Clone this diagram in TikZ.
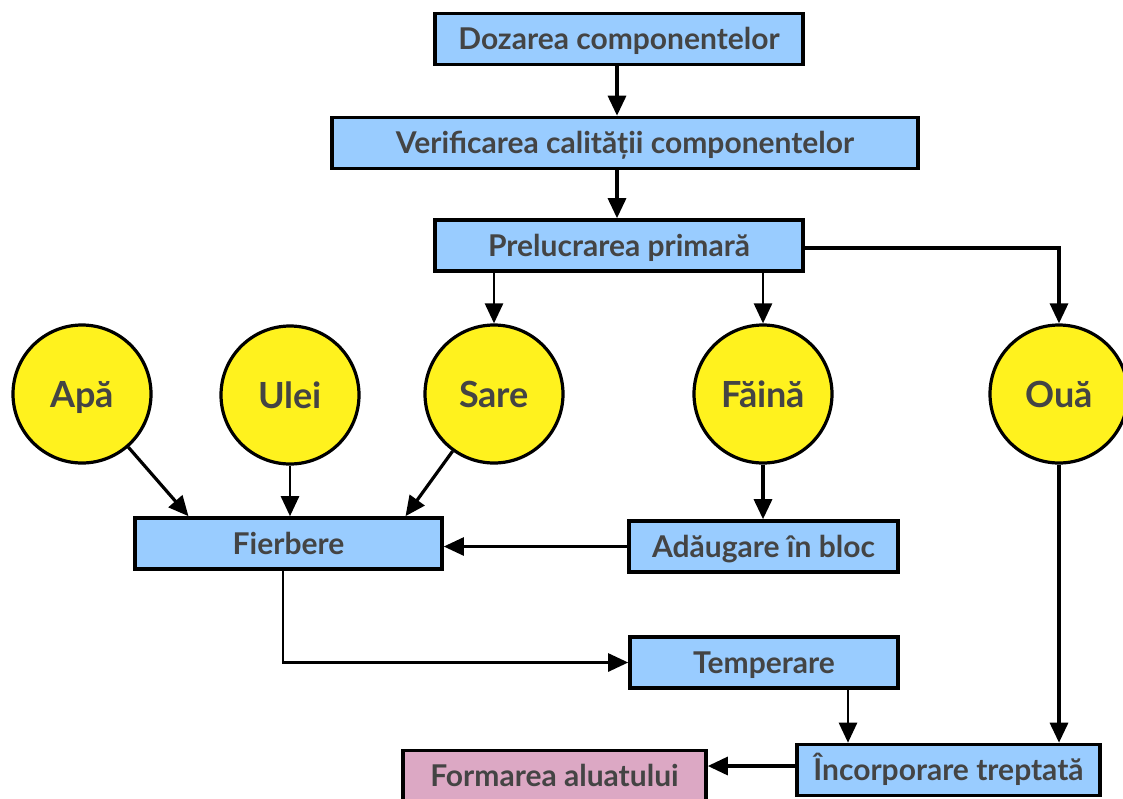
\documentclass[tikz,border=0pt]{standalone}
\usepackage{fontspec}
\setmainfont{Lato}
\usetikzlibrary{arrows.meta,calc}
\definecolor{boxblue}{RGB}{153,204,255}
\definecolor{dotyellow}{RGB}{255,242,30}
\definecolor{endpink}{RGB}{220,168,196}
\definecolor{inkgray}{RGB}{68,68,68}
\begin{document}
\begin{tikzpicture}[x=1pt,y=-1pt,
  stepbox/.style={draw=black,line width=3.6pt,fill=boxblue,rectangle,
    minimum height=51pt,inner sep=0pt,text=inkgray,
    text height=21.5pt,text depth=0pt,
    font=\fontsize{30}{34}\selectfont\bfseries},
  endbox/.style={stepbox,fill=endpink},
  ingr/.style={draw=black,line width=3.2pt,fill=dotyellow,circle,
    minimum size=138pt,inner sep=0pt,text=inkgray,
    text height=26pt,text depth=0pt,
    font=\fontsize{36}{40}\selectfont\bfseries},
  flow/.style={line width=3.2pt,-{Triangle[length=20pt,width=18pt]}},
  thinflow/.style={flow,line width=2.6pt}]
\useasboundingbox (0,0) rectangle (1123,798);
\fill[white] (0,0) rectangle (1123,798);

% process steps
\node[stepbox,minimum width=368pt] (doz) at (619,39) {Dozarea componentelor};
\node[stepbox,minimum width=586pt] (ver) at (625,143) {Verificarea calității componentelor};
\node[stepbox,minimum width=368pt] (pre) at (619,245.5) {Prelucrarea primară};
\node[stepbox,minimum width=307pt] (fier) at (288.5,543.5) {Fierbere};
\node[stepbox,minimum width=269pt] (add) at (763.5,546.5) {Adăugare în bloc};
\node[stepbox,minimum width=268pt] (temp) at (764,662.5) {Temperare};
\node[stepbox,minimum width=303pt] (inc) at (948.5,770) {Încorporare treptată};
\node[endbox,minimum width=303pt] (form) at (554.5,776) {Formarea aluatului};

% ingredients
\node[ingr] (apa) at (82,394) {Apă};
\node[ingr] (ulei) at (290,395) {Ulei};
\node[ingr] (sare) at (494,394) {Sare};
\node[ingr] (faina) at (763,394) {Făină};
\node[ingr] (oua) at (1059,394) {Ouă};

% connectors
\draw[flow] ([xshift=-2pt]doz.south) -- ([xshift=-2pt]doz.south |- ver.north);
\draw[flow] ([xshift=-8pt]ver.south) -- ([xshift=-8pt]ver.south |- pre.north);
\draw[thinflow] (sare.north |- pre.south) -- (sare.north);
\draw[thinflow] (faina.north |- pre.south) -- (faina.north);
\draw[flow] ([yshift=-2.5pt]pre.east) -| (oua.north);
\draw[flow] (apa) -- ([xshift=-100pt]fier.north);
\draw[thinflow] (ulei) -- (ulei |- fier.north);
\draw[flow] (sare) -- ([xshift=117pt]fier.north);
\draw[flow] (faina) -- (faina |- add.north);
\draw[thinflow] (add.west) -- (add.west -| fier.east);
\draw[thinflow] ([xshift=-5.5pt]fier.south) |- (temp.west);
\draw[thinflow] ([xshift=84pt]temp.south) -- ([xshift=84pt]temp.south |- inc.north);
\draw[flow] (oua) -- (oua |- inc.north);
\draw[flow] ([yshift=4pt]inc.west) -- ([yshift=4pt]inc.west -| form.east);
\end{tikzpicture}
\end{document}
